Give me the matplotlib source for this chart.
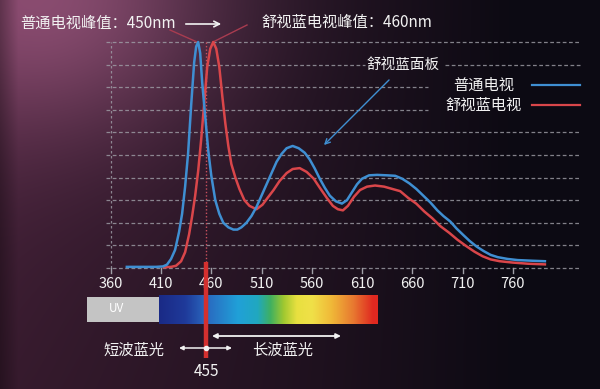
import numpy as np
import matplotlib
matplotlib.use('Agg')
import matplotlib.pyplot as plt
from matplotlib.colors import LinearSegmentedColormap

plt.rcParams['font.family'] = ['Noto Sans CJK SC', 'DejaVu Sans']

# Datos de las curvas (longitud de onda nm, intensidad relativa)
wl_normal = [376, 390, 405, 412, 416, 420, 424, 428, 431, 434, 437, 440, 443, 445, 447,
             449, 451, 454, 457, 460, 464, 468, 472, 477, 482, 486, 490, 495, 500, 505,
             510, 515, 520, 525, 530, 535, 541, 547, 553, 558, 563, 568, 573, 578, 584,
             590, 595, 600, 605, 610, 617, 625, 635, 643, 650, 657, 664, 671, 678, 685,
             691, 698, 704, 711, 717, 724, 731, 738, 745, 755, 765, 780, 792]
val_normal = [0.05, 0.05, 0.05, 0.07, 0.15, 0.4, 0.8, 1.6, 2.4, 3.6, 5.1, 7.2, 9.1, 9.8, 10.0,
              9.5, 8.2, 6.7, 5.2, 4.1, 3.0, 2.4, 2.0, 1.8, 1.7, 1.7, 1.8, 2.0, 2.3, 2.7,
              3.2, 3.7, 4.2, 4.7, 5.05, 5.3, 5.4, 5.3, 5.1, 4.8, 4.4, 3.95, 3.55, 3.2, 2.95,
              2.85, 3.0, 3.35, 3.7, 3.95, 4.1, 4.12, 4.1, 4.08, 3.95, 3.75, 3.5, 3.2, 2.9, 2.55,
              2.3, 2.05, 1.75, 1.45, 1.2, 0.95, 0.75, 0.58, 0.48, 0.4, 0.35, 0.32, 0.3]

wl_comfort = [413, 420, 425, 430, 434, 438, 441, 444, 447, 450, 453, 456, 459, 462, 465,
              468, 471, 474, 477, 480, 484, 488, 493, 498, 505, 511, 516, 522, 528, 535,
              541, 548, 555, 562, 568, 575, 581, 586, 591, 596, 602, 608, 615, 623, 632,
              640, 648, 656, 664, 672, 680, 688, 697, 705, 714, 722, 730, 738, 747, 760,
              775, 792]
val_comfort = [0.03, 0.05, 0.1, 0.3, 0.7, 1.5, 2.3, 3.2, 4.3, 5.7, 7.3, 8.9, 9.7, 10.0, 9.7,
               8.9, 7.6, 6.4, 5.4, 4.6, 4.0, 3.5, 3.0, 2.75, 2.6, 2.8, 3.1, 3.45, 3.85, 4.2,
               4.38, 4.42, 4.25, 3.95, 3.55, 3.1, 2.75, 2.6, 2.55, 2.75, 3.15, 3.45, 3.6, 3.65, 3.6,
               3.5, 3.4, 3.1, 2.85, 2.5, 2.2, 1.85, 1.55, 1.25, 0.96, 0.72, 0.52, 0.38, 0.3, 0.24,
               0.19, 0.16]

xticks = [360, 410, 460, 510, 560, 610, 660, 710, 760]
label_normal = '普通电视'
label_comfort = '舒视蓝电视'
peak_normal_txt = '普通电视峰值：450nm'
peak_comfort_txt = '舒视蓝电视峰值：460nm'
split_nm = 455

BLUE = '#3f8fd2'
RED = '#d9464a'
TXT = '#f2f2f2'
GRID = '#a0a0a8'

# conversion pixel -> datos
def px(p):
    return 410 + (p - 161) / 1.005

def py(p):
    return (268 - p) / 22.6

fig = plt.figure(figsize=(6, 3.89), dpi=100)
ax = fig.add_axes([0, 0, 1, 1])
ax.set_xlim(px(0), px(600))
ax.set_ylim(py(389), py(0))
ax.axis('off')

# fondo
H, W = 389, 600
yy, xx = np.mgrid[0:H, 0:W]
xn = xx / W
yn = yy / H
t = np.clip(xn / 0.85, 0, 1) ** 0.85
left = np.array([0.29, 0.14, 0.24])
right = np.array([0.05, 0.04, 0.075])
bg = left[None, None, :] * (1 - t[..., None]) + right[None, None, :] * t[..., None]
bg *= (1 - 0.25 * yn * (1 - t))[..., None]
glow = np.exp(-(((xn - 0.1) / 0.28) ** 2 + ((yn - 0.0) / 0.35) ** 2))
bg += glow[..., None] * np.array([0.28, 0.17, 0.22])[None, None, :]
edge = np.clip(1 - xn / 0.03, 0, 1)
bg *= (1 - 0.3 * edge)[..., None]
ax.imshow(np.clip(bg, 0, 1), extent=[px(0), px(600), py(389), py(0)], aspect='auto', zorder=0)

# cuadricula
dash = (0, (3, 2))
for k in range(11):
    if k in (7, 8):
        ax.plot([355, px(428)], [k, k], color=GRID, lw=0.9, ls=dash, alpha=0.8, zorder=1)
    elif k == 9:
        ax.plot([355, px(365)], [k, k], color=GRID, lw=0.9, ls=dash, alpha=0.8, zorder=1)
        ax.plot([px(445), px(580)], [k, k], color=GRID, lw=0.9, ls=dash, alpha=0.8, zorder=1)
    else:
        ax.plot([355, px(580)], [k, k], color=GRID, lw=0.9, ls=dash, alpha=0.8, zorder=1)
ax.plot([360, 360], [0, 10], color=GRID, lw=0.9, ls=(0, (2, 2)), alpha=0.8, zorder=1)

for v in xticks:
    ax.plot([v, v], [0, -0.24], color=GRID, lw=1, zorder=1)
    ax.text(v, py(284), str(v), color=TXT, fontsize=10.5, ha='center', va='center')

# linea punteada en 455
ax.plot([split_nm, split_nm], [10, py(262)], color='#c8505e', lw=1, ls=(0, (1, 1.5)), zorder=2)

# curvas
ax.plot(wl_normal, val_normal, color=BLUE, lw=1.8, zorder=4)
ax.plot(wl_comfort, val_comfort, color=RED, lw=1.8, zorder=3)

# etiquetas de picos
ax.text(px(20), py(23), peak_normal_txt, color=TXT, fontsize=11, ha='left', va='center')
ax.text(px(262), py(22), peak_comfort_txt, color=TXT, fontsize=11, ha='left', va='center')
ax.annotate('', xy=(px(224), py(24)), xytext=(px(183), py(24)),
            arrowprops=dict(arrowstyle='->', color=TXT, lw=1.2, mutation_scale=10))
ax.plot([px(170), px(197)], [py(30), py(42)], color='#a83c50', lw=1, zorder=2)
ax.plot([px(213), px(247)], [py(42), py(25)], color='#a83c50', lw=1, zorder=2)

# panel
ax.text(px(403), py(65), '舒视蓝面板', color=TXT, fontsize=10.5, ha='center', va='center')
ax.annotate('', xy=(px(322), py(147)), xytext=(px(391), py(78)),
            arrowprops=dict(arrowstyle='->', color=BLUE, lw=1, mutation_scale=9))

# leyenda
ax.text(px(484), py(85), label_normal, color=TXT, fontsize=11, ha='center', va='center')
ax.text(px(484), py(105), label_comfort, color=TXT, fontsize=11, ha='center', va='center')
ax.plot([px(532), px(580)], [py(85), py(85)], color=BLUE, lw=1.6)
ax.plot([px(532), px(580)], [py(105), py(105)], color=RED, lw=1.6)

# espectro
spec = LinearSegmentedColormap.from_list('spec', [
    (0.0, '#1a2a86'), (0.12, '#1f3a9a'), (0.22, '#2a6ac0'), (0.36, '#20a0d8'),
    (0.45, '#20a8c0'), (0.51, '#40b060'), (0.57, '#a0c830'), (0.63, '#e8e040'),
    (0.70, '#f0e048'), (0.79, '#f0b838'), (0.89, '#e87830'), (0.98, '#e02820'),
    (1.0, '#e02820')])
ax.imshow(np.linspace(0, 1, 256)[None, :], cmap=spec, aspect='auto',
          extent=[px(159), px(378), py(324), py(295)], zorder=2)
ax.fill_between([px(87), px(159)], py(322), py(297), color='#c4c4c4', lw=0, zorder=2)
ax.text(px(116), py(309), 'UV', color='white', fontsize=8.5, ha='center', va='center', zorder=3)

# barra roja 455
ax.plot([split_nm, split_nm], [py(262), py(358)], color='#d4302f', lw=3.2, solid_capstyle='butt', zorder=5)

# flechas inferiores
ax.annotate('', xy=(px(341), py(336)), xytext=(px(212), py(336)),
            arrowprops=dict(arrowstyle='<|-|>', color=TXT, lw=1.3, mutation_scale=7, shrinkA=0, shrinkB=0))
ax.annotate('', xy=(px(179), py(348)), xytext=(px(205), py(348)),
            arrowprops=dict(arrowstyle='-|>', color=TXT, lw=1.1, mutation_scale=6, shrinkA=0, shrinkB=0), zorder=6)
ax.annotate('', xy=(px(232), py(348)), xytext=(px(205), py(348)),
            arrowprops=dict(arrowstyle='-|>', color=TXT, lw=1.1, mutation_scale=6, shrinkA=0, shrinkB=0), zorder=6)
ax.plot([split_nm], [py(348)], 'o', color=TXT, ms=3, zorder=6)

ax.text(px(134), py(350), '短波蓝光', color=TXT, fontsize=11, ha='center', va='center')
ax.text(px(283), py(350), '长波蓝光', color=TXT, fontsize=11, ha='center', va='center')
ax.text(split_nm, py(371), str(split_nm), color=TXT, fontsize=11, ha='center', va='center')

fig.savefig('out.png', dpi=100)
